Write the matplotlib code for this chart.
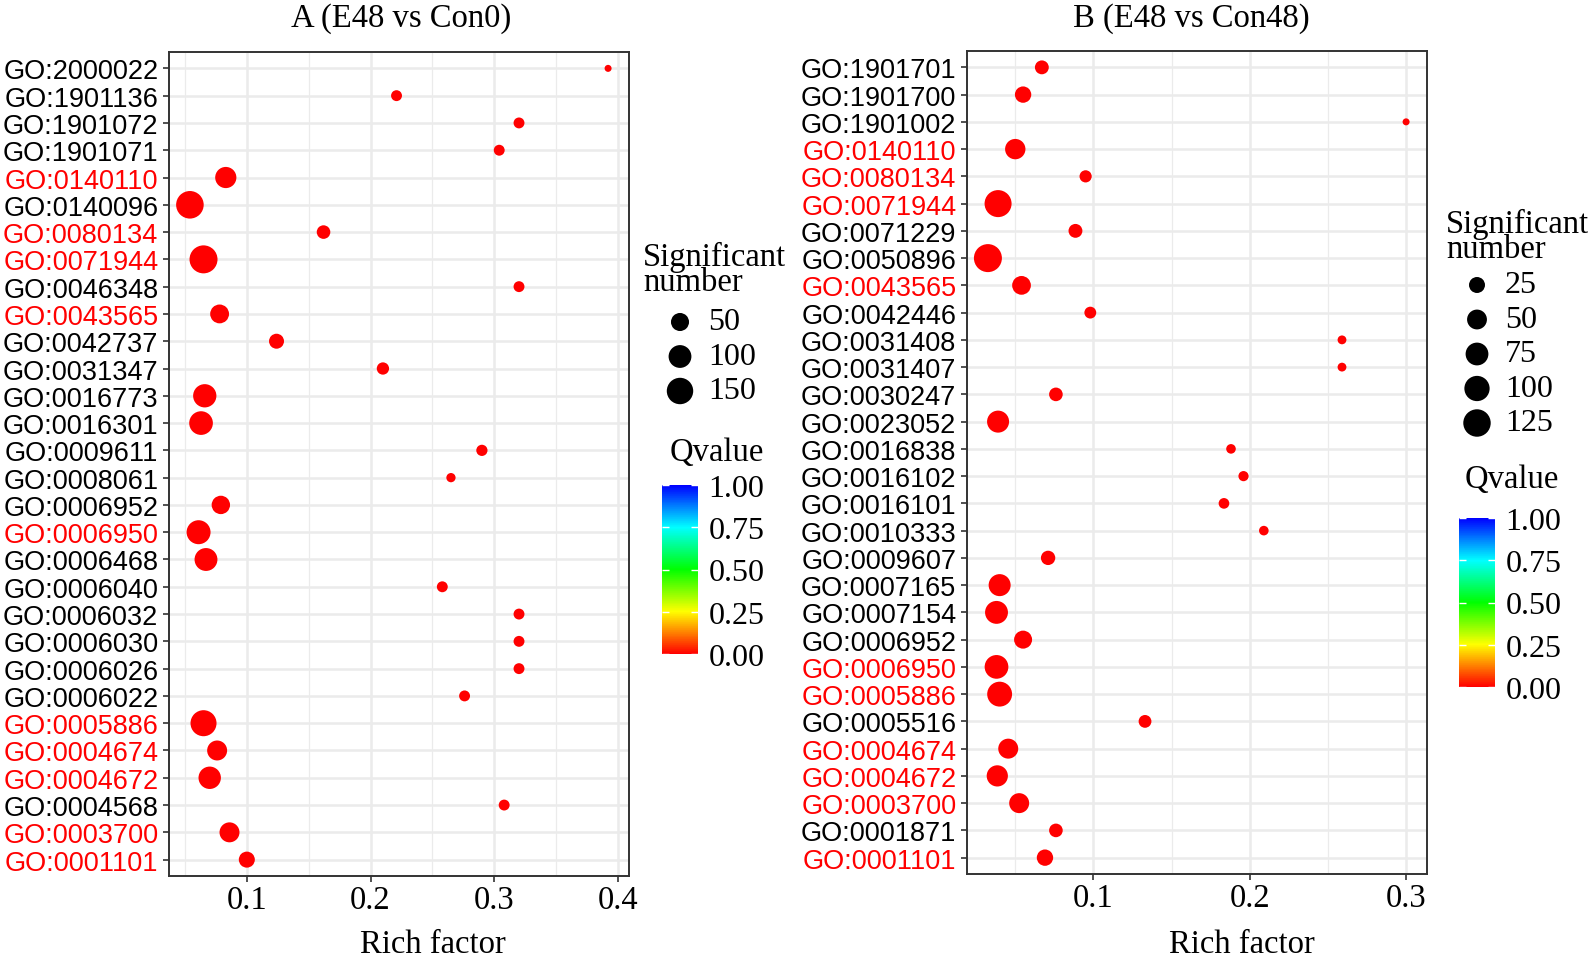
import matplotlib
matplotlib.use('Agg')
import matplotlib.pyplot as plt
import numpy as np
from matplotlib.cm import ScalarMappable
from matplotlib.colors import LinearSegmentedColormap, Normalize
from matplotlib.ticker import MultipleLocator

# Panel A (E48 vs Con0), terms listed top to bottom
a_terms = ['GO:2000022', 'GO:1901136', 'GO:1901072', 'GO:1901071', 'GO:0140110',
           'GO:0140096', 'GO:0080134', 'GO:0071944', 'GO:0046348', 'GO:0043565',
           'GO:0042737', 'GO:0031347', 'GO:0016773', 'GO:0016301', 'GO:0009611',
           'GO:0008061', 'GO:0006952', 'GO:0006950', 'GO:0006468', 'GO:0006040',
           'GO:0006032', 'GO:0006030', 'GO:0006026', 'GO:0006022', 'GO:0005886',
           'GO:0004674', 'GO:0004672', 'GO:0004568', 'GO:0003700', 'GO:0001101']
a_rich = [0.392, 0.221, 0.320, 0.304, 0.083, 0.054, 0.162, 0.065, 0.320, 0.078,
          0.124, 0.210, 0.066, 0.063, 0.290, 0.265, 0.079, 0.061, 0.067, 0.258,
          0.320, 0.320, 0.320, 0.276, 0.065, 0.076, 0.070, 0.308, 0.086, 0.100]
a_count = [2, 8, 8, 8, 81, 168, 19, 175, 8, 57,
           27, 13, 106, 111, 9, 4, 53, 115, 101, 8,
           8, 8, 8, 8, 144, 68, 95, 8, 68, 34]
a_qvalue = [0.0, 0.0, 0.0, 0.0, 0.0, 0.0, 0.0, 0.0, 0.0, 0.0,
            0.0, 0.0, 0.0, 0.0, 0.0, 0.0, 0.0, 0.0, 0.0, 0.0,
            0.0, 0.0, 0.0, 0.0, 0.0, 0.0, 0.0, 0.0, 0.0, 0.0]
a_size_breaks = [50, 100, 150]

# Panel B (E48 vs Con48)
b_terms = ['GO:1901701', 'GO:1901700', 'GO:1901002', 'GO:0140110', 'GO:0080134',
           'GO:0071944', 'GO:0071229', 'GO:0050896', 'GO:0043565', 'GO:0042446',
           'GO:0031408', 'GO:0031407', 'GO:0030247', 'GO:0023052', 'GO:0016838',
           'GO:0016102', 'GO:0016101', 'GO:0010333', 'GO:0009607', 'GO:0007165',
           'GO:0007154', 'GO:0006952', 'GO:0006950', 'GO:0005886', 'GO:0005516',
           'GO:0004674', 'GO:0004672', 'GO:0003700', 'GO:0001871', 'GO:0001101']
b_rich = [0.067, 0.055, 0.300, 0.050, 0.095, 0.039, 0.0885, 0.0325, 0.054, 0.098,
          0.259, 0.259, 0.076, 0.039, 0.188, 0.196, 0.1835, 0.209, 0.071, 0.040,
          0.038, 0.055, 0.038, 0.040, 0.133, 0.0455, 0.0385, 0.0525, 0.076, 0.069]
b_count = [15, 27, 1, 54, 9, 120, 15, 132, 42, 8,
           2, 2, 14, 68, 3, 4, 5, 3, 17, 68,
           76, 37, 84, 96, 11, 51, 61, 51, 14, 27]
b_qvalue = [0.0, 0.0, 0.0, 0.0, 0.0, 0.0, 0.0, 0.0, 0.0, 0.0,
            0.0, 0.0, 0.0, 0.0, 0.0, 0.0, 0.0, 0.0, 0.0, 0.0,
            0.0, 0.0, 0.0, 0.0, 0.0, 0.0, 0.0, 0.0, 0.0, 0.0]
b_size_breaks = [25, 50, 75, 100, 125]

# Terms whose tick labels are drawn in red (same set in both panels)
red_terms = ['GO:0140110', 'GO:0080134', 'GO:0071944', 'GO:0043565', 'GO:0006950',
             'GO:0005886', 'GO:0004674', 'GO:0004672', 'GO:0003700', 'GO:0001101']

qvalue_ticks = [0.0, 0.25, 0.5, 0.75, 1.0]

W, H, DPI = 1593, 962, 100
SERIF = ['Liberation Serif', 'DejaVu Serif']
SANS = ['Liberation Sans', 'DejaVu Sans']
QCMAP = LinearSegmentedColormap.from_list(
    'qvalue', ['#FF0000', '#FFFF00', '#00FF00', '#00FFFF', '#0000FF'])


def px_box(left, top, right, bottom):
    """Pixel box (from top-left) -> figure fraction rect."""
    return [left / W, 1 - bottom / H, (right - left) / W, (bottom - top) / H]


def dot_area(n, n_min, n_max):
    """Area scale like ggplot: diameter grows with sqrt of rescaled count."""
    frac = (np.asarray(n, dtype=float) - n_min) / (n_max - n_min)
    diam_px = 7 + 21 * np.sqrt(np.clip(frac, 0, None))
    return (diam_px * 72 / DPI) ** 2


def draw_panel(fig, overlay, box, title_x, xlabel_x, title, terms, rich, count,
               qvalue, size_breaks, size_legend, cbar_box):
    ax = fig.add_axes(px_box(*box))
    y = np.arange(len(terms), 0, -1)
    n_min, n_max = min(count), max(count)
    ax.scatter(rich, y, s=dot_area(count, n_min, n_max), c=qvalue,
               cmap=QCMAP, vmin=0, vmax=1, linewidths=0, zorder=3)

    span = max(rich) - min(rich)
    ax.set_xlim(min(rich) - 0.05 * span, max(rich) + 0.05 * span)
    ax.set_ylim(0.4, len(terms) + 0.6)
    ax.xaxis.set_major_locator(MultipleLocator(0.1))
    ax.xaxis.set_minor_locator(MultipleLocator(0.05))
    ax.xaxis.set_major_formatter(lambda v, pos: f'{v:g}')
    ax.set_yticks(y, terms)

    ax.grid(which='major', color='#EBEBEB', lw=1.8, zorder=0)
    ax.grid(which='minor', axis='x', color='#EBEBEB', lw=0.9, zorder=0)
    ax.set_axisbelow(True)
    for sp in ax.spines.values():
        sp.set_color('#333333')
        sp.set_linewidth(1.4)
    ax.tick_params(which='major', length=4.3, width=1.2, color='#333333')
    ax.tick_params(which='minor', length=0)
    ax.tick_params(axis='x', pad=1.5, labelsize=23.5)
    ax.tick_params(axis='y', pad=3.4, labelsize=19.5)
    for lab in ax.get_xticklabels():
        lab.set_family(SERIF)
    for lab in ax.get_yticklabels():
        lab.set_family(SANS)
        lab.set_color('red' if lab.get_text() in red_terms else 'black')

    overlay.text(title_x, 19, title, ha='center', va='center',
                 family=SERIF, size=23.5)
    overlay.text(xlabel_x, 945, 'Rich factor', ha='center', va='center',
                 family=SERIF, size=23.5)

    # size legend
    tx, ty, dx, dy0, step, qx, qy = size_legend
    overlay.text(tx, ty, 'Significant\nnumber', ha='left', va='center',
                 family=SERIF, size=23.5, linespacing=0.8)
    ys = [dy0 + i * step for i in range(len(size_breaks))]
    overlay.scatter([dx] * len(size_breaks), ys,
                    s=dot_area(size_breaks, n_min, n_max),
                    color='black', linewidths=0, clip_on=False)
    for yy, b in zip(ys, size_breaks):
        overlay.text(dx + 28, yy, str(b), ha='left', va='center',
                     family=SERIF, size=23)

    # colour legend
    overlay.text(qx, qy, 'Qvalue', ha='center', va='center',
                 family=SERIF, size=23.5)
    cax = fig.add_axes(px_box(*cbar_box))
    cb = fig.colorbar(ScalarMappable(Normalize(0, 1), QCMAP), cax=cax,
                      ticks=qvalue_ticks)
    cb.outline.set_visible(False)
    cb.set_ticklabels([f'{t:.2f}' for t in qvalue_ticks])
    cax.tick_params(axis='y', direction='in', color='white', labelcolor='black',
                    length=5, width=1, left=True, right=True,
                    labelleft=False, labelright=True, pad=7.5, labelsize=23)
    for lab in cax.get_yticklabels():
        lab.set_family(SERIF)
    return ax


fig = plt.figure(figsize=(W / DPI, H / DPI), dpi=DPI)
overlay = fig.add_axes([0, 0, 1, 1])
overlay.set_xlim(0, W)
overlay.set_ylim(H, 0)
overlay.axis('off')

draw_panel(fig, overlay, (169, 53, 629, 877), 401, 433, 'A (E48 vs Con0)',
           a_terms, a_rich, a_count, a_qvalue, a_size_breaks,
           (643, 270, 680, 323, 34.5, 717, 453), (662, 486, 698, 655))
draw_panel(fig, overlay, (967, 52, 1427, 875), 1191, 1242, 'B (E48 vs Con48)',
           b_terms, b_rich, b_count, b_qvalue, b_size_breaks,
           (1446, 237, 1477, 286, 34.5, 1512, 480), (1459, 519, 1495, 688))

fig.savefig('out.png', dpi=DPI)
